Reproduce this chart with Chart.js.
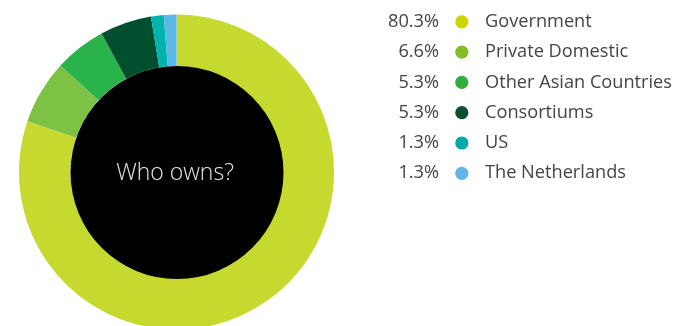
<!DOCTYPE html>
<html>
<head>
<meta charset="utf-8">
<script src="https://cdn.jsdelivr.net/npm/chart.js@4/dist/chart.umd.min.js"></script>
<style>
  html, body { margin: 0; padding: 0; background: #fff; overflow: hidden; }
  #wrap { position: relative; width: 674px; height: 346px; }
</style>
</head>
<body>
<div id="wrap"><canvas id="c" width="674" height="346"></canvas></div>
<script>
// Ownership shares (percent)
const owners = ['Government', 'Private Domestic', 'Other Asian Countries', 'Consortiums', 'US', 'The Netherlands'];
const shares = [80.3, 6.6, 5.3, 5.3, 1.3, 1.3];
const centerLabel = 'Who owns?';

const ringColors = ['#c5d92f', '#7dc244', '#2bb34b', '#00502f', '#00b3ad', '#5bb9e9'];
const dotColors  = ['#cdd500', '#86bc25', '#33ad3c', '#0a4f2e', '#00aaa6', '#62b5e5'];

// Black disc in the hole of the ring plus the caption
const centerDisc = {
  id: 'centerDisc',
  afterDatasetsDraw(chart) {
    const arc = chart.getDatasetMeta(0).data[0];
    if (!arc) return;
    const { x, y, innerRadius } = arc.getProps(['x', 'y', 'innerRadius'], true);
    const ctx = chart.ctx;
    ctx.save();
    ctx.beginPath();
    ctx.arc(x + 0.5, y + 0.5, innerRadius + 0.5, 0, Math.PI * 2);
    ctx.fillStyle = '#000';
    ctx.fill();
    ctx.fillStyle = '#e6e6e6';
    ctx.font = '300 23px "Open Sans"';
    ctx.textAlign = 'center';
    ctx.textBaseline = 'middle';
    ctx.fillText(centerLabel, x - 1.5, y + 1);
    ctx.restore();
  }
};

// Legend list: value, dot, name
const sideLegend = {
  id: 'sideLegend',
  afterDraw(chart) {
    const ctx = chart.ctx;
    const data = chart.data.datasets[0].data;
    const labels = chart.data.labels;
    ctx.save();
    ctx.font = '400 18.2px "Open Sans"';
    ctx.textBaseline = 'middle';
    labels.forEach((name, i) => {
      const y = 21.8 + i * 30.3;
      ctx.fillStyle = '#444444';
      ctx.textAlign = 'right';
      ctx.fillText(data[i].toFixed(1) + '%', 439, y);
      ctx.beginPath();
      ctx.arc(461.8, y, 6.6, 0, Math.PI * 2);
      ctx.fillStyle = dotColors[i];
      ctx.fill();
      ctx.fillStyle = '#444444';
      ctx.textAlign = 'left';
      ctx.fillText(name, 485, y);
    });
    ctx.restore();
  }
};

new Chart(document.getElementById('c'), {
  type: 'doughnut',
  data: {
    labels: owners,
    datasets: [{
      data: shares,
      backgroundColor: ringColors,
      borderWidth: 0,
      hoverOffset: 0
    }]
  },
  options: {
    responsive: false,
    animation: false,
    cutout: '67.3%',
    layout: { padding: { left: 19, top: 14.5, right: 340, bottom: 16.5 } },
    plugins: { legend: { display: false }, tooltip: { enabled: false } }
  },
  plugins: [centerDisc, sideLegend]
});
</script>
</body>
</html>
